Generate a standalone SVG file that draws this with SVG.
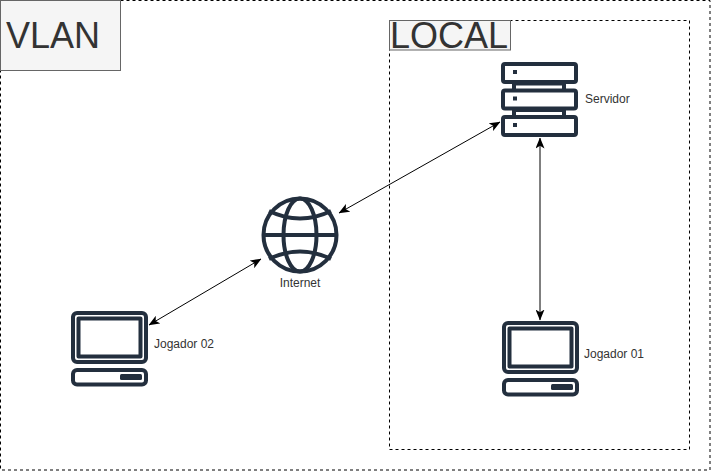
<svg xmlns="http://www.w3.org/2000/svg" width="711" height="471" viewBox="0 0 711 471">
<style>
text{font-family:"Liberation Sans",Arial,sans-serif;fill:#333}
.lbl{font-size:12px;fill:#333}
.big{font-size:36px}
.zone{fill:none;stroke:#000;stroke-width:1;stroke-dasharray:3 3}
.tag{fill:#f5f5f5;stroke:#666;stroke-width:1}
.ic{fill:none;stroke:#232f3e;stroke-width:4;stroke-linejoin:round}
.icf{fill:#232f3e}
.cn{fill:none;stroke:#000;stroke-width:1;marker-start:url(#a);marker-end:url(#a)}
</style>
<defs>
<marker id="a" viewBox="0 0 11 9" refX="10.500" refY="4.500" markerWidth="11" markerHeight="9" markerUnits="userSpaceOnUse" orient="auto-start-reverse"><path d="M0 0L11 4.500L0 9L2.700 4.500Z" fill="#000"/></marker>
<g id="pc">
<rect class="ic" x="73" y="313" width="73" height="49" rx="4"/>
<rect class="ic" x="78.500" y="318.500" width="62" height="38"/>
<rect class="ic" x="73" y="370" width="73" height="14.500" rx="4"/>
<rect class="icf" x="120" y="374" width="22" height="6" rx="1.500"/>
</g>
</defs>
<g id="vlan-zone"><rect class="zone" x="0.500" y="0.500" width="709.500" height="469.500"/></g>
<g id="vlan"><rect class="tag" x="0.500" y="0.500" width="120" height="70"/><text class="big" x="6" y="48">VLAN</text></g>
<g id="local-zone"><rect class="zone" x="389.500" y="20.500" width="300" height="429"/></g>
<g id="local"><rect class="tag" x="389.500" y="20.500" width="121" height="29.500"/><text class="big" x="390" y="48">LOCAL</text></g>
<g id="connectors">
<path class="cn" d="M339 213L500 122"/>
<path class="cn" d="M149 325L261 259"/>
<path class="cn" d="M540 138L540 320"/>
</g>
<g id="servidor">
<rect class="ic" x="503" y="64" width="73" height="18" rx="2"/>
<rect class="ic" x="503" y="90.500" width="73" height="18" rx="2"/>
<rect class="ic" x="503" y="117" width="73" height="18" rx="2"/>
<path class="icf" d="M513 70h4v4h-4zM513 96.500h4v4h-4zM513 123h4v4h-4zM512 83h4v6h-4zM562 83h4v6h-4zM512 109h4v6h-4zM562 109h4v6h-4zM516 83.500h46v2h-46zM516 110h46v2h-46z"/>
<text class="lbl" x="585" y="103">Servidor</text>
</g>
<g id="internet">
<circle class="ic" cx="300" cy="235" r="36.500"/>
<ellipse class="ic" cx="300" cy="235" rx="16.500" ry="36.500"/>
<path class="ic" d="M263 235H337M269 211Q300 226 331 211M269 259Q300 244 331 259"/>
<text class="lbl" x="300" y="287" text-anchor="middle">Internet</text>
</g>
<g id="jogador-02"><use href="#pc"/><text class="lbl" x="154" y="348">Jogador 02</text></g>
<g id="jogador-01"><use href="#pc" x="431" y="10"/><text class="lbl" x="584" y="358">Jogador 01</text></g>
</svg>
